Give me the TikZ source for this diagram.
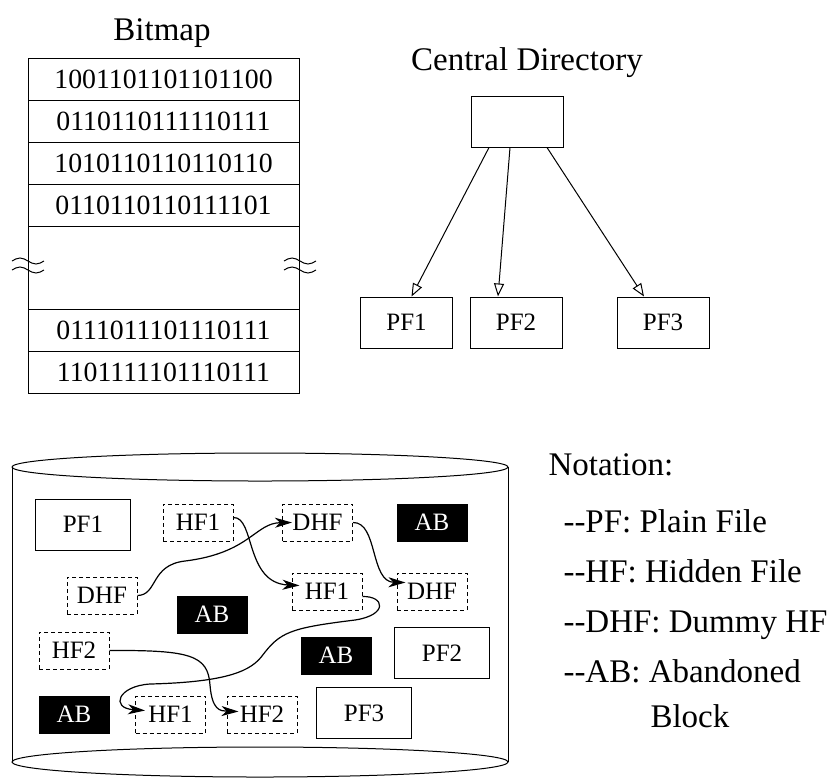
\documentclass[tikz,border=0pt]{standalone}
\usepackage{fontspec}
\setmainfont{Liberation Serif}
\usetikzlibrary{arrows.meta, calc, positioning}
\newcommand{\dbldash}{\mbox{-}\mbox{-}}
\tikzset{
  % riga della bitmap
  bitrow/.style={draw, minimum width=135.5pt, minimum height=21pt, inner sep=0pt,
    font=\fontsize{13.9}{16}\selectfont},
  % titoli
  ttl/.style={font=\fontsize{16.5}{20}\selectfont},
  % file in chiaro
  filebox/.style={draw, minimum width=46pt, minimum height=25.5pt, inner sep=0pt,
    font=\fontsize{12.5}{15}\selectfont},
  % file nascosti
  hidbox/.style={filebox, dash pattern=on 2pt off 1.5pt, minimum width=35pt, minimum height=18.5pt},
  % blocchi abbandonati
  abbox/.style={filebox, fill=black, text=white, minimum width=35pt, minimum height=18.5pt},
  % puntatori della directory
  ptr/.style={-{Triangle[open, length=6.5pt, width=5pt]}},
  % catena dei file nascosti
  hidlink/.style={-{Stealth[length=8.5pt, width=5pt, inset=2.5pt]}, line width=0.6pt},
  % legenda
  notel/.style={font=\fontsize{16.5}{20}\selectfont, anchor=base west, inner sep=0pt},
}
\begin{document}
\begin{tikzpicture}[x=0.5pt, y=-0.5pt, line width=0.5pt]
  \useasboundingbox (0,0) rectangle (828,778);
  % bitmap
  \node[ttl] (bmtitle) at (162,33) {Bitmap};
  \node[bitrow] (r1) at (163.5,79) {1001101101101100};
  \node[bitrow] (r2) at (163.5,121) {0110110111110111};
  \node[bitrow] (r3) at (163.5,163) {1010110110110110};
  \node[bitrow] (r4) at (163.5,205) {0110110110111101};
  \node[bitrow, minimum height=41.5pt] (rgap) at (163.5,267.5) {};
  \node[bitrow] (r5) at (163.5,330) {0111011101110111};
  \node[bitrow] (r6) at (163.5,372) {1101111101110111};
  \foreach \wx in {28,300} \foreach \wy in {261,270}
    \draw (\wx-16,\wy) sin (\wx-8,\wy-3) cos (\wx,\wy) sin (\wx+8,\wy+3) cos (\wx+16,\wy);
  % directory centrale
  \node[ttl] (cdtitle) at (527,63) {Central Directory};
  \node[filebox] (dir) at (517,121.5) {};
  \node[filebox] (pf1) at (406.5,322.5) {PF1};
  \node[filebox] (pf2) at (516,322.5) {PF2};
  \node[filebox] (pf3) at (663,322.5) {PF3};
  \draw[ptr] ([xshift=-14pt]dir.south) -- ([xshift=2.5pt]pf1.north);
  \draw[ptr] ([xshift=-3.5pt]dir.south) -- ([xshift=-9pt]pf2.north);
  \draw[ptr] ([xshift=15pt]dir.south) -- ([xshift=-9.5pt]pf3.north);
  % disco
  \draw (12,467) -- (12,762) (508,467) -- (508,762);
  \draw (260,467) ellipse [x radius=248, y radius=14];
  \draw (260,762) ellipse [x radius=248, y radius=15];
  \node[filebox, minimum width=47.5pt] (cpf1) at (83,524.5) {PF1};
  \node[hidbox] (hfa) at (198,522.5) {HF1};
  \node[hidbox] (dhfa) at (317.5,522.5) {DHF};
  \node[abbox] (aba) at (432,522.5) {AB};
  \node[hidbox] (dhfb) at (102,595.5) {DHF};
  \node[abbox] (abb) at (212,614.5) {AB};
  \node[hidbox] (hfb) at (327,591.5) {HF1};
  \node[hidbox] (dhfc) at (432,591.5) {DHF};
  \node[hidbox] (hfc) at (74,650.5) {HF2};
  \node[abbox] (abc) at (336,655.5) {AB};
  \node[filebox, minimum width=47.5pt] (cpf2) at (442,653) {PF2};
  \node[abbox] (abd) at (74,714.5) {AB};
  \node[hidbox] (hfd) at (170.5,714.5) {HF1};
  \node[hidbox] (hfe) at (262,714.5) {HF2};
  \node[filebox, minimum width=47.5pt] (cpf3) at (364,713) {PF3};
  \draw[hidlink] (dhfb.east) .. controls (158,595) and (150,565) .. (185,561)
    .. controls (250,553) and (255,523) .. ([xshift=5pt]dhfa.west);
  \draw[hidlink] ([yshift=2.5pt]hfa.east) .. controls (255,517) and (245,583) .. ([xshift=4pt, yshift=3pt]hfb.west);
  \draw[hidlink] (dhfa.east) .. controls (378,522) and (370,582) .. ([xshift=4.5pt, yshift=4.5pt]dhfc.west);
  \draw[hidlink] ([yshift=-2.5pt]hfb.east) .. controls (385,596) and (388,615) .. (355,620)
    .. controls (290,628) and (280,632) .. (262,656)
    .. controls (251,670) and (230,682) .. (150,684)
    .. controls (118,686) and (110,708) .. ([xshift=5pt, yshift=2pt]hfd.west);
  \draw[hidlink] (hfc.east) .. controls (190,650) and (208,655) .. (210,685)
    .. controls (212,710) and (220,711) .. ([xshift=6pt, yshift=1.5pt]hfe.west);
  % legenda
  \node[notel] (n0) at (548,475) {Notation:};
  \node[notel] (n1) at (563,532) {\dbldash PF: Plain File};
  \node[notel] (n2) at (563,582) {\dbldash HF: Hidden File};
  \node[notel] (n3) at (563,632) {\dbldash DHF: Dummy HF};
  \node[notel] (n4) at (563,682) {\dbldash AB: Abandoned};
  \node[notel] (n5) at (650,727) {Block};
\end{tikzpicture}
\end{document}
